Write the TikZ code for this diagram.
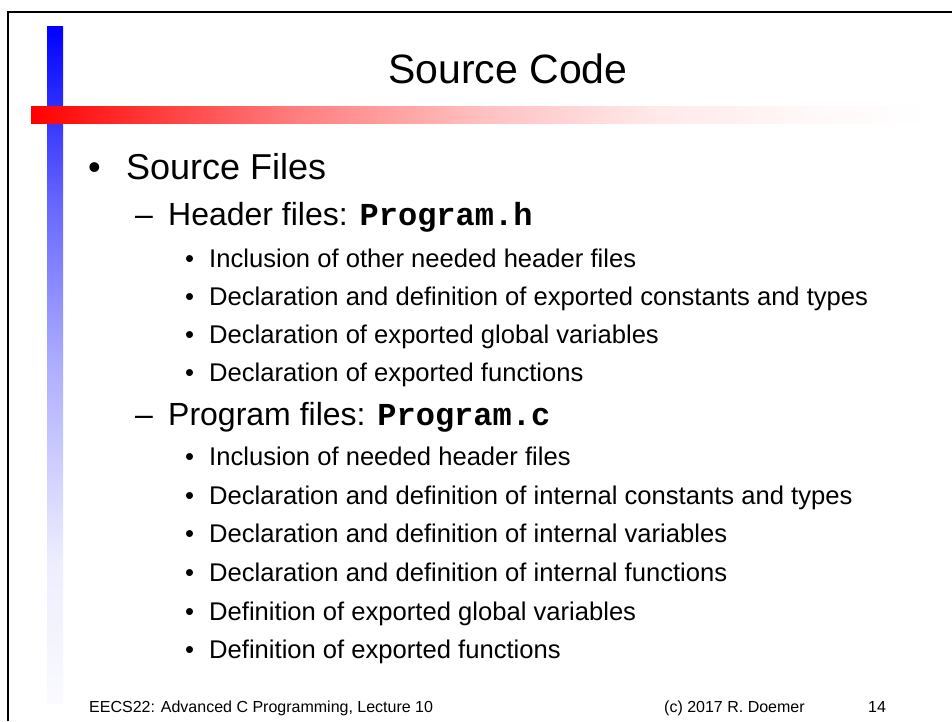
\documentclass[tikz,border=0pt]{standalone}
\usepackage{fontspec}
\setmainfont{Liberation Sans}
\setmonofont{Liberation Mono}
\usetikzlibrary{positioning}

% colour fades of the two bars
\pgfdeclarehorizontalshading{redfade}{100bp}{color(0bp)=(red); color(25bp)=(red); color(40bp)=(red!50); color(50bp)=(red!25); color(59.5bp)=(red!9); color(68bp)=(red!3); color(75bp)=(white); color(100bp)=(white)}
\pgfdeclareverticalshading{bluefade}{100bp}{color(0bp)=(blue!2); color(25bp)=(blue!2); color(35.5bp)=(blue!7); color(50bp)=(blue!32); color(62bp)=(blue!60); color(75bp)=(blue); color(100bp)=(blue)}

\tikzset{
  slidetitle/.style={anchor=base, inner sep=0pt, font=\fontsize{41}{48}\selectfont},
  itemone/.style={anchor=base west, inner sep=0pt, font=\fontsize{36}{42}\selectfont},
  itemtwo/.style={anchor=base west, inner sep=0pt, font=\fontsize{32}{38}\selectfont},
  itemthree/.style={anchor=base west, inner sep=0pt, font=\fontsize{25.6}{30}\selectfont},
  footer/.style={anchor=base west, inner sep=0pt, font=\fontsize{16}{19}\selectfont},
}

\begin{document}
\begin{tikzpicture}[x=1pt, y=-1pt]
    \useasboundingbox (0,0) rectangle (952,721);
    \fill[white] (0,0) rectangle (952,721);

    % Frame
    \draw[line width=2.8pt] (8,721) -- (8,12) -- (952,12);

    % Bars
    \shade[shading=bluefade] (47,26) rectangle (63,703);
    \shade[shading=redfade] (31,106) rectangle (928,123);

    % Title
    \node[slidetitle] (title) at (508,83) {Source Code};

    % First level
    \node[itemone] (srcbul) at (88,179) {•};
    \node[itemone] (src) at (126,179) {Source Files};

    % Header files
    \node[itemtwo] (hdrdash) at (135,225) {–};
    \node[itemtwo] (hdr) at (168,225) {Header files: \texttt{\bfseries Program.h}};
    \foreach \ypos/\txt [count=\i] in {
        267/Inclusion of other needed header files,
        305/Declaration and definition of exported constants and types,
        343/Declaration of exported global variables,
        381/Declaration of exported functions}
    {
        \node[itemthree] (hb\i) at (185,\ypos) {•};
        \node[itemthree] (h\i) at (209,\ypos) {\txt};
    }

    % Program files
    \node[itemtwo] (prgdash) at (135,425) {–};
    \node[itemtwo] (prg) at (168,425) {Program files: \texttt{\bfseries Program.c}};
    \foreach \ypos/\txt [count=\i] in {
        465/Inclusion of needed header files,
        504/Declaration and definition of internal constants and types,
        542/Declaration and definition of internal variables,
        581/Declaration and definition of internal functions,
        620/Definition of exported global variables,
        658/Definition of exported functions}
    {
        \node[itemthree] (pb\i) at (185,\ypos) {•};
        \node[itemthree] (p\i) at (209,\ypos) {\txt};
    }

    % Footer
    \node[footer] (course) at (89,712) {EECS22: Advanced C Programming, Lecture 10};
    \node[footer] (copy) at (664,712) {(c) 2017 R. Doemer};
    \node[footer] (page) at (868,712) {14};
\end{tikzpicture}
\end{document}
